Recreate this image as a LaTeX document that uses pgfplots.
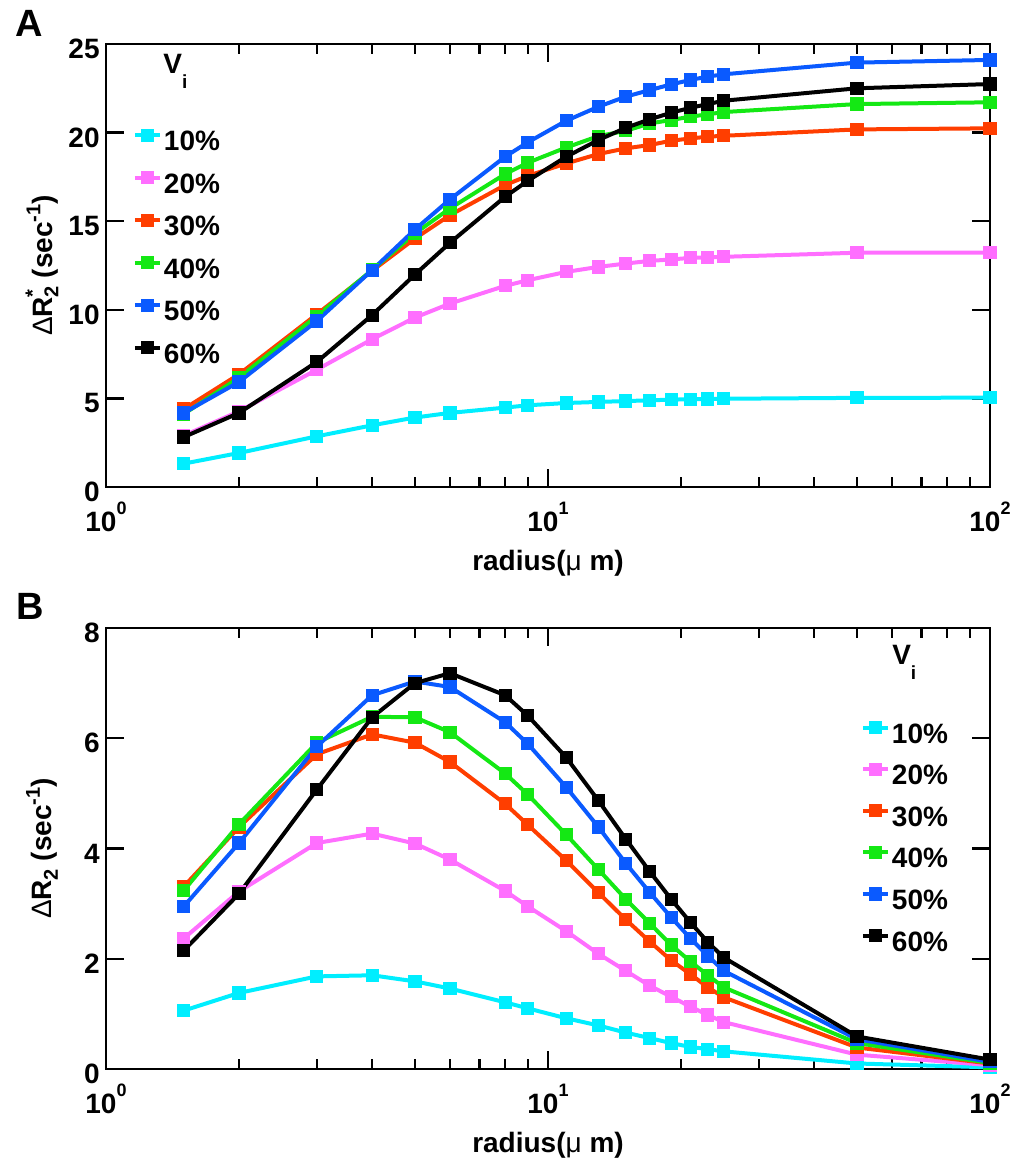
\documentclass[border=0pt]{standalone}
\usepackage{fontspec}
\setmainfont{Liberation Sans}
\usepackage{pgfplots}
\usepackage{pgfplotstable}
\pgfplotsset{compat=1.18}

\definecolor{cV10}{RGB}{0,238,255}
\definecolor{cV20}{RGB}{255,110,255}
\definecolor{cV30}{RGB}{255,62,0}
\definecolor{cV40}{RGB}{20,232,20}
\definecolor{cV50}{RGB}{10,90,255}
\definecolor{cV60}{RGB}{0,0,0}

% raised exponent for the decade labels
\newcommand\dec[1]{10\raisebox{8.5pt}{\fontsize{9}{9}\selectfont #1}}

% Delta R2* (panel A)
\pgfplotstableread{
r     v10   v20    v30    v40    v50    v60
1.5   1.32  2.90   4.40   4.12   4.18   2.82
2     1.92  4.27   6.36   6.17   5.93   4.18
3     2.86  6.62   9.75   9.64   9.37   7.06
4     3.48  8.34   12.20  12.25  12.24  9.70
5     3.92  9.56   14.02  14.31  14.53  11.99
6     4.18  10.35  15.34  15.72  16.23  13.78
8     4.48  11.35  17.04  17.66  18.64  16.38
9     4.61  11.67  17.56  18.30  19.45  17.28
11    4.74  12.14  18.26  19.16  20.67  18.64
13    4.80  12.42  18.79  19.80  21.46  19.58
15    4.85  12.61  19.11  20.10  22.03  20.27
17    4.89  12.76  19.30  20.52  22.40  20.75
19    4.93  12.84  19.54  20.71  22.72  21.12
21    4.95  12.93  19.67  20.90  22.97  21.40
23    4.97  12.95  19.77  21.03  23.16  21.61
25    4.98  12.99  19.82  21.16  23.29  21.80
50    5.03  13.22  20.18  21.61  23.95  22.50
100   5.04  13.23  20.24  21.71  24.10  22.74
}\dataA

% Delta R2 (panel B)
\pgfplotstableread{
r     v10   v20   v30   v40   v50   v60
1.5   1.06  2.37  3.31  3.24  2.95  2.15
2     1.38  3.22  4.39  4.44  4.10  3.18
3     1.68  4.10  5.71  5.92  5.85  5.07
4     1.70  4.27  6.07  6.39  6.78  6.38
5     1.59  4.09  5.92  6.38  7.03  7.00
6     1.46  3.80  5.57  6.11  6.93  7.18
8     1.21  3.23  4.81  5.36  6.29  6.78
9     1.10  2.95  4.43  4.98  5.90  6.41
11    0.92  2.50  3.78  4.25  5.11  5.65
13    0.79  2.09  3.20  3.62  4.39  4.87
15    0.66  1.78  2.71  3.08  3.73  4.17
17    0.56  1.51  2.31  2.64  3.20  3.58
19    0.47  1.31  1.97  2.25  2.75  3.08
21    0.40  1.13  1.72  1.95  2.37  2.66
23    0.36  0.98  1.48  1.70  2.05  2.30
25    0.32  0.85  1.30  1.48  1.78  2.02
50    0.10  0.26  0.39  0.47  0.54  0.59
100   0.03  0.07  0.10  0.11  0.13  0.17
}\dataB

\pgfplotsset{
  radiusaxis/.style={
    scale only axis, width=442pt,
    xtick={1,10,100}, xticklabels={\dec{0},\dec{1},\dec{2}},
    minor xtick={2,3,4,5,6,7,8,9,20,30,40,50,60,70,80,90},
    tick align=inside, tick pos=both,
    major tick length=9pt, minor tick length=5pt,
    axis line style={line width=1.3pt},
    every tick/.append style={line width=1.2pt, black},
    /pgf/number format/assume math mode=true,
    ticklabel style={font=\bfseries\fontsize{14}{14}\selectfont},
    yticklabel style={inner sep=0pt, xshift=-3pt, yshift=-2.5pt},
    xticklabel style={anchor=north, inner sep=0pt, yshift=-7.5pt},
    label style={font=\bfseries\fontsize{14}{14}\selectfont},
    xlabel={radius({\mdseries μ} m)},
    ylabel style={at={(axis description cs:-0.0724,0.5)}, anchor=center},
    clip=false,
    every axis plot/.append style={line width=2pt, mark=square*, mark size=2.3pt, mark options={solid}},
    legend image code/.code={\draw[mark repeat=2,mark phase=2]
      plot coordinates {(0pt,2.8pt)(6.25pt,2.8pt)(12.5pt,2.8pt)};},
    legend style={draw=none, fill=none, inner sep=0pt, outer sep=0pt,
      column sep=1pt, font=\bfseries\fontsize{14}{14}\selectfont,
      nodes={inner sep=0pt, text height=10pt, text depth=0pt},
      cells={anchor=west}},
  }
}

\begin{document}
\begin{tikzpicture}
\path[use as bounding box] (0,0) rectangle (507.5pt,581pt);

% ---------------- panel A ----------------
\begin{axis}[xmode=log, log basis x=10, xmin=1, xmax=100, ymin=0, ymax=25,
  radiusaxis, height=221.5pt, at={(53pt,337.5pt)}, anchor=south west,
  ytick={0,5,10,15,20,25},
  xlabel style={at={(axis description cs:0.5,-0.1716)}, anchor=center},
  ylabel={{\mdseries Δ}R\rlap{\raisebox{6.5pt}{\fontsize{10}{10}\selectfont *}}\raisebox{-3pt}{\fontsize{10}{10}\selectfont 2} (sec\raisebox{6pt}{\fontsize{10}{10}\selectfont -1})},
  legend style={at={(axis description cs:0.0305,0.8043)}, anchor=north west, row sep=11.15pt}]
\addplot[cV10] table[x=r,y=v10]{\dataA}; \addlegendentry{10\%}
\addplot[cV20] table[x=r,y=v20]{\dataA}; \addlegendentry{20\%}
\addplot[cV30] table[x=r,y=v30]{\dataA}; \addlegendentry{30\%}
\addplot[cV40] table[x=r,y=v40]{\dataA}; \addlegendentry{40\%}
\addplot[cV50] table[x=r,y=v50]{\dataA}; \addlegendentry{50\%}
\addplot[cV60] table[x=r,y=v60]{\dataA}; \addlegendentry{60\%}
\node[anchor=base west, inner sep=0pt, font=\bfseries\fontsize{14}{14}\selectfont]
  at (axis description cs:0.0645,0.9345) {V\raisebox{-7.5pt}{\fontsize{9.5}{9.5}\selectfont i}};
\end{axis}

% ---------------- panel B ----------------
\begin{axis}[xmode=log, log basis x=10, xmin=1, xmax=100, ymin=0, ymax=8,
  radiusaxis, height=220.5pt, at={(53pt,46.5pt)}, anchor=south west,
  ytick={0,2,4,6,8},
  xlabel style={at={(axis description cs:0.5,-0.1723)}, anchor=center},
  ylabel={{\mdseries Δ}R\raisebox{-3pt}{\fontsize{10}{10}\selectfont 2} (sec\raisebox{6pt}{\fontsize{10}{10}\selectfont -1})},
  legend style={at={(axis description cs:0.854,0.7846)}, anchor=north west, row sep=10.7pt}]
\addplot[cV10] table[x=r,y=v10]{\dataB}; \addlegendentry{10\%}
\addplot[cV20] table[x=r,y=v20]{\dataB}; \addlegendentry{20\%}
\addplot[cV30] table[x=r,y=v30]{\dataB}; \addlegendentry{30\%}
\addplot[cV40] table[x=r,y=v40]{\dataB}; \addlegendentry{40\%}
\addplot[cV50] table[x=r,y=v50]{\dataB}; \addlegendentry{50\%}
\addplot[cV60] table[x=r,y=v60]{\dataB}; \addlegendentry{60\%}
\node[anchor=base west, inner sep=0pt, font=\bfseries\fontsize{14}{14}\selectfont]
  at (axis description cs:0.889,0.918) {V\raisebox{-7.5pt}{\fontsize{9.5}{9.5}\selectfont i}};
\end{axis}

% panel letters
\node[anchor=base west, inner sep=0pt, font=\bfseries\fontsize{19}{19}\selectfont] at (7.5pt,562.6pt) {A};
\node[anchor=base west, inner sep=0pt, font=\bfseries\fontsize{19}{19}\selectfont] at (8.3pt,271pt) {B};
\end{tikzpicture}
\end{document}
